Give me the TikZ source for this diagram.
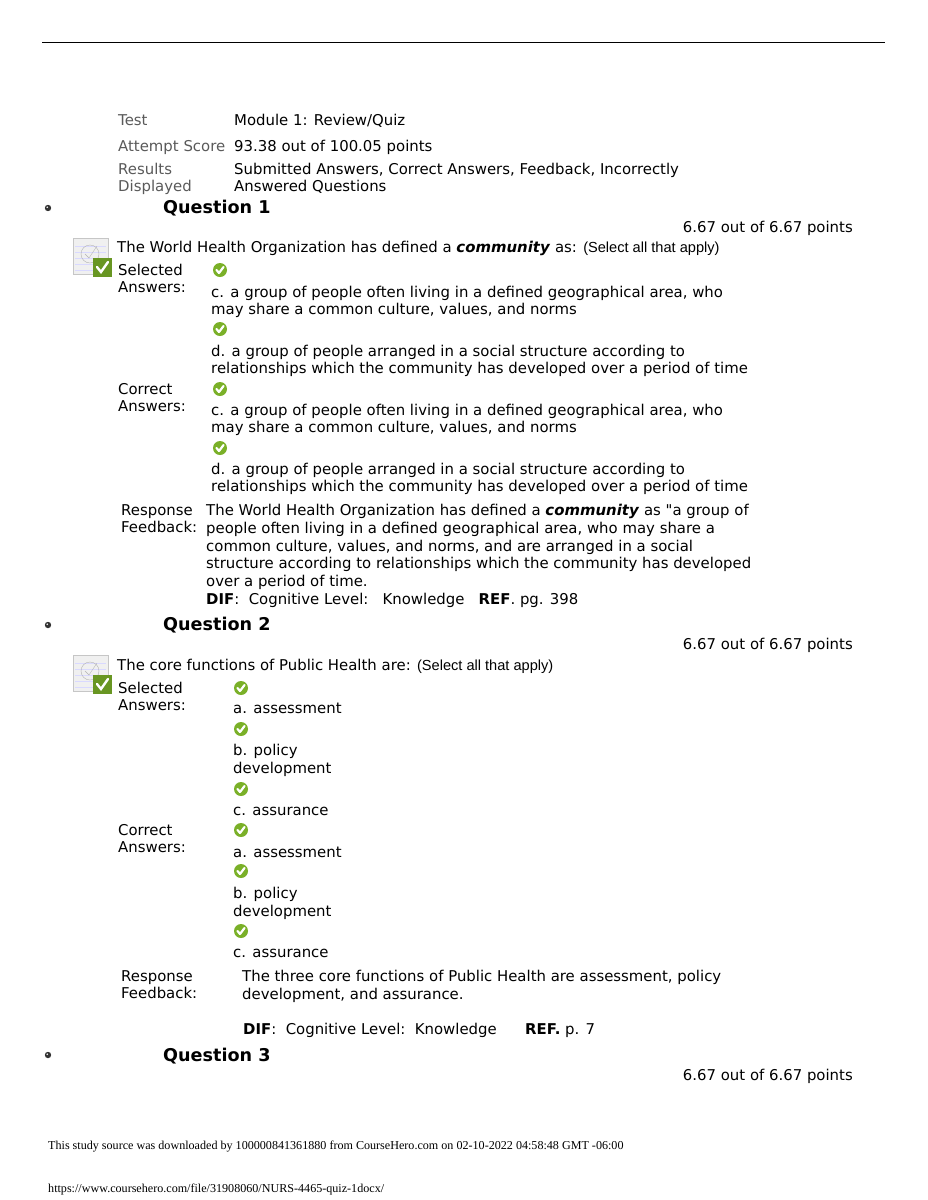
\documentclass[tikz,border=0pt]{standalone}
\usepackage{fontspec}
\setmainfont{DejaVu Sans}
\newfontfamily\plainf{DejaVu Sans}
\newfontfamily\lib{Liberation Sans}
\newfontfamily\ser{Liberation Serif}
\definecolor{lbl}{RGB}{90,90,90}
\definecolor{okg}{RGB}{122,176,40}
\newcommand{\T}[3]{\node[anchor=base west,inner sep=0pt] at (#1,#2) {#3};}
\newcommand{\G}[3]{\node[anchor=base west,inner sep=0pt,text=lbl] at (#1,#2) {#3};}
\newcommand{\CK}[2]{\fill[okg] (#1,#2) circle (7);\draw[white,line width=2.2pt,line cap=round,line join=round] (#1-3.5,#2) -- (#1-1,#2+3) -- (#1+3.5,#2-3);}
\newcommand{\ICON}[1]{%
\fill[gray!12] (73,#1) rectangle (108,#1+36);\draw[gray!45] (73,#1) rectangle (108,#1+36);
\foreach \k in {8,14,20,26,32}{\draw[blue!15] (75,#1+\k) -- (106,#1+\k);}
\draw[gray!60] (90,#1+16) circle (9);
\draw[gray!60] (85,#1+16) -- (89,#1+20) -- (97,#1+8);
\fill[okg!85!black] (93,#1+20) rectangle (112,#1+39);
\draw[white,line width=2.4pt,line cap=round] (97,#1+29) -- (101,#1+34) -- (108,#1+24);}
\newcommand{\BUL}[1]{\fill[black!80] (48,#1) circle (3.2);\fill[white] (47.2,#1-0.8) circle (0.9);}
\begin{document}
\begin{tikzpicture}[x=1pt,y=-1pt,font=\fontsize{14.9}{17}\selectfont]
\useasboundingbox (0,0) rectangle (927,1200);
\fill[white] (0,0) rectangle (927,1200);
\draw[line width=0.8pt] (42,42) -- (885,42);
\G{118}{125}{Test}\T{234}{125}{Module 1: Review/Quiz}
\G{118}{151}{Attempt Score}\T{234}{151}{93.38 out of 100.05 points}
\G{118}{174}{Results}\G{118}{191}{Displayed}
\T{234}{174}{Submitted Answers, Correct Answers, Feedback, Incorrectly}
\T{234}{191}{Answered Questions}
% Q1
\BUL{208}
\node[anchor=base west,inner sep=0pt,font=\fontsize{17.6}{20}\selectfont\bfseries] at (163,213) {Question 1};
\node[anchor=base east,inner sep=0pt] at (853,232) {6.67 out of 6.67 points};
\ICON{238}
\T{117}{252}{The World Health Organization has defined a \textbf{\itshape community} as: {\lib\fontsize{14.6}{15}\selectfont (Select all that apply)}}
\T{118}{275}{Selected}\T{118}{292}{Answers:}
\CK{220}{270}
\T{211}{297}{c. a group of people often living in a defined geographical area, who}
\T{211}{314}{may share a common culture, values, and norms}
\CK{220}{329}
\T{211}{356}{d. a group of people arranged in a social structure according to}
\T{211}{373}{relationships which the community has developed over a period of time}
\T{118}{394}{Correct}\T{118}{411}{Answers:}
\CK{220}{389}
\T{211}{415}{c. a group of people often living in a defined geographical area, who}
\T{211}{432}{may share a common culture, values, and norms}
\CK{220}{448}
\T{211}{474}{d. a group of people arranged in a social structure according to}
\T{211}{491}{relationships which the community has developed over a period of time}
\T{121}{515}{Response}\T{121}{532}{Feedback:}
\T{206}{515}{The World Health Organization has defined a \textbf{\itshape community} as {\plainf"}a group of}
\T{206}{533}{people often living in a defined geographical area, who may share a}
\T{206}{551}{common culture, values, and norms, and are arranged in a social}
\T{206}{568}{structure according to relationships which the community has developed}
\T{206}{586}{over a period of time.}
\T{206}{604}{\textbf{DIF}:\ \ Cognitive Level:\ \ \ Knowledge\ \ \ \textbf{REF}. pg. 398}
% Q2
\BUL{625}
\node[anchor=base west,inner sep=0pt,font=\fontsize{17.6}{20}\selectfont\bfseries] at (163,630) {Question 2};
\node[anchor=base east,inner sep=0pt] at (853,649) {6.67 out of 6.67 points};
\ICON{655}
\T{117}{670}{The core functions of Public Health are: {\lib\fontsize{14.6}{15}\selectfont (Select all that apply)}}
\T{118}{693}{Selected}\T{118}{710}{Answers:}
\CK{241}{688}\T{233}{713}{a. assessment}
\CK{241}{729}\T{233}{755}{b. policy}\T{233}{773}{development}
\CK{241}{789}\T{233}{815}{c. assurance}
\T{118}{835}{Correct}\T{118}{852}{Answers:}
\CK{241}{830}\T{233}{857}{a. assessment}
\CK{241}{871}\T{233}{898}{b. policy}\T{233}{916}{development}
\CK{241}{931}\T{233}{957}{c. assurance}
\T{121}{981}{Response}\T{121}{998}{Feedback:}
\T{242}{981}{The three core functions of Public Health are assessment, policy}
\T{242}{999}{development, and assurance.}
\T{243}{1034}{\textbf{DIF}:\ \ Cognitive Level:\ \ Knowledge}
\T{525}{1034}{\textbf{REF.} p. 7}
% Q3
\BUL{1055}
\node[anchor=base west,inner sep=0pt,font=\fontsize{17.6}{20}\selectfont\bfseries] at (163,1061) {Question 3};
\node[anchor=base east,inner sep=0pt] at (853,1080) {6.67 out of 6.67 points};
\node[anchor=base west,inner sep=0pt,font=\ser\fontsize{12.1}{13}\selectfont] at (48,1149) {This study source was downloaded by 100000841361880 from CourseHero.com on 02-10-2022 04:58:48 GMT -06:00};
\node[anchor=base west,inner sep=0pt,font=\ser\fontsize{12.1}{13}\selectfont] at (48,1192) {https://www.coursehero.com/file/31908060/NURS-4465-quiz-1docx/};
\end{tikzpicture}
\end{document}
